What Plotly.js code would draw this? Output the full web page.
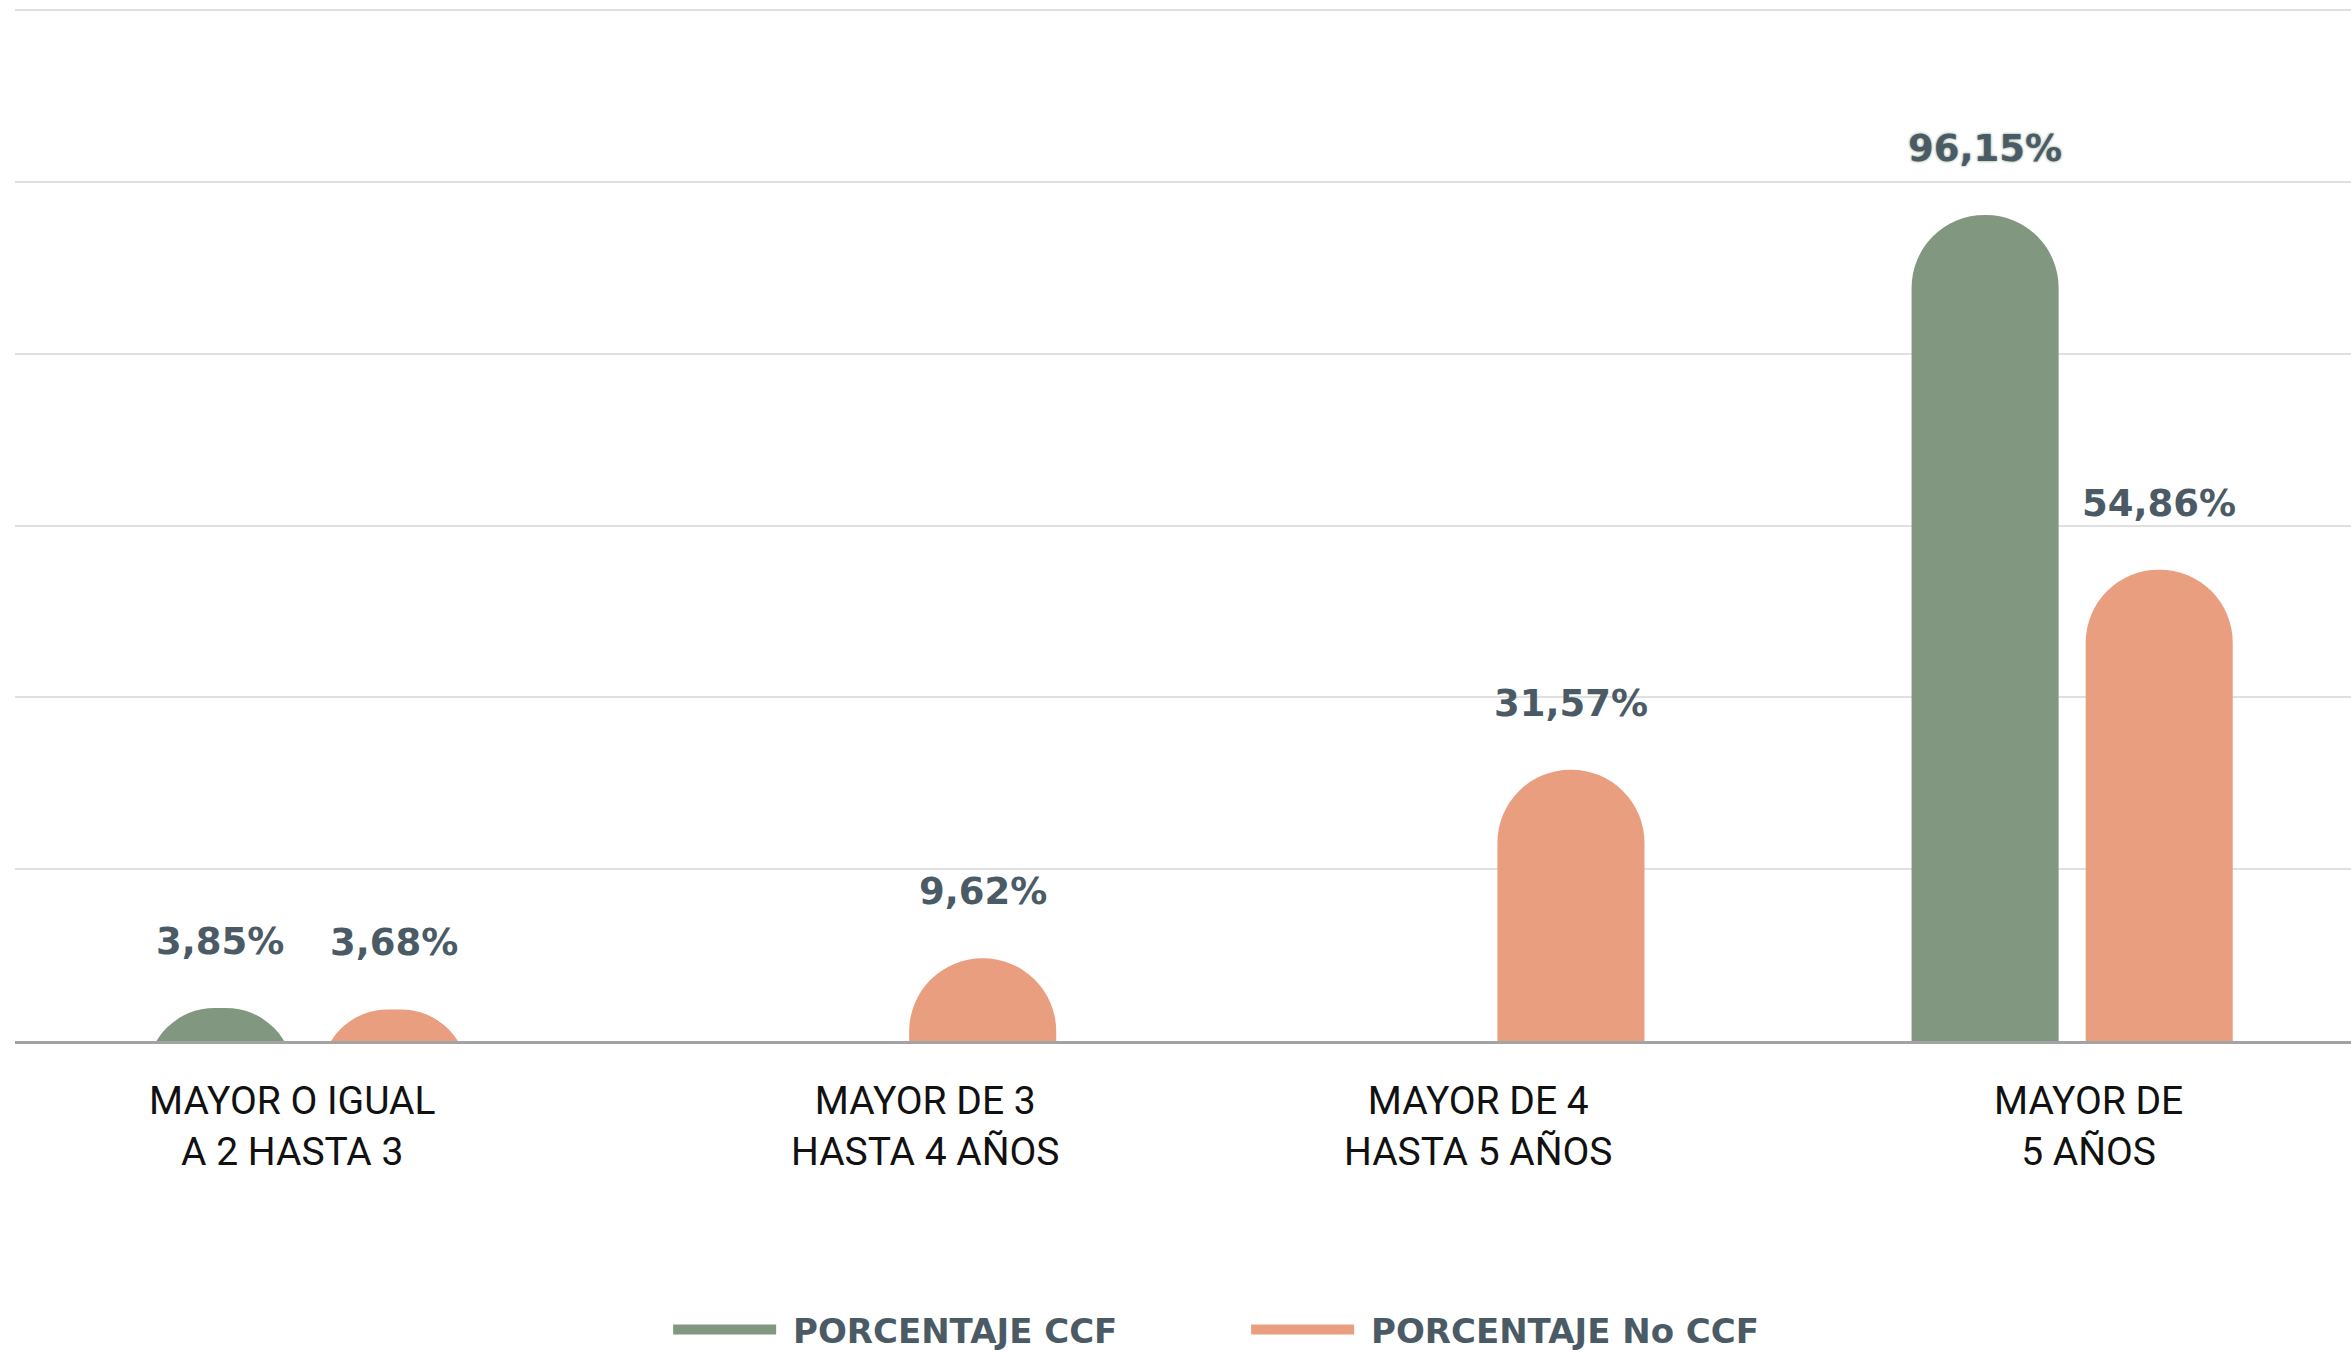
<!DOCTYPE html>
<html>
<head>
<meta charset="utf-8">
<script src="https://cdn.plot.ly/plotly-3.0.1.min.js"></script>
<style>html,body{margin:0;padding:0;background:#fff;}#chart{width:2351px;height:1353px;}</style>
</head>
<body>
<div id="chart"></div>
<script>
var categories = ["MAYOR O IGUAL<br>A 2 HASTA 3", "MAYOR DE 3<br>HASTA 4 AÑOS", "MAYOR DE 4<br>HASTA 5 AÑOS", "MAYOR DE<br>5 AÑOS"];
var ccfValues = [3.85, 0, 0, 96.15];
var noCcfValues = [3.68, 9.62, 31.57, 54.86];
var ccfLabels = ["3,85%", "", "", "96,15%"];
var noCcfLabels = ["3,68%", "9,62%", "31,57%", "54,86%"];
var seriesNames = ["PORCENTAJE CCF", "PORCENTAJE No CCF"];

// styling
var GREEN = "#82977f";
var ORANGE = "#ea9e80";
var LABEL = "#4b5b66";
var BAR_W = 0.25;
var HALF_SEP = 0.148;
var SINK = 12;               // bars start below the baseline so the rounded cap is clipped into a dome
var labelXShift = [-15, 30, -5, 16];

function sunk(vals) { return vals.map(function (v) { return v > 0 ? v + SINK : null; }); }
function bases(vals) { return vals.map(function () { return -SINK; }); }

var traces = [
  {type: "bar", x: categories, y: sunk(ccfValues), base: bases(ccfValues), width: BAR_W,
   offset: -HALF_SEP - BAR_W / 2, marker: {color: GREEN, cornerradius: "50%"},
   showlegend: false, hoverinfo: "skip"},
  {type: "bar", x: categories, y: sunk(noCcfValues), base: bases(noCcfValues), width: BAR_W,
   offset: HALF_SEP - BAR_W / 2, marker: {color: ORANGE, cornerradius: "50%"},
   showlegend: false, hoverinfo: "skip"},
  {type: "scatter", mode: "lines", x: [null], y: [null], name: "\u00a0" + seriesNames[0],
   line: {color: GREEN, width: 12}},
  {type: "scatter", mode: "lines", x: [null], y: [null], name: "\u00a0" + seriesNames[1],
   line: {color: ORANGE, width: 12}}
];

var annotations = [];
function addLabels(vals, labels, dx) {
  for (var i = 0; i < vals.length; i++) {
    if (!labels[i]) continue;
    var a = {x: i + dx, y: vals[i], xref: "x", yref: "y", text: labels[i], showarrow: false,
      xanchor: "center", yanchor: "bottom", yshift: 43,
      font: {family: "DejaVu Sans", size: 37, weight: 700, color: LABEL}};
    if (vals[i] > 90) a.font.shadow = "0 0 3px " + GREEN;
    annotations.push(a);
  }
}
addLabels(ccfValues, ccfLabels, -HALF_SEP);
addLabels(noCcfValues, noCcfLabels, HALF_SEP);

var catFont = {family: "Roboto", size: 39, color: "#111111"};
for (var i = 0; i < categories.length; i++) {
  annotations.push({x: i, y: 0, xref: "x", yref: "y", text: categories[i], showarrow: false,
    xanchor: "center", yanchor: "middle", align: "center", yshift: -85, xshift: labelXShift[i],
    font: catFont});
}

var layout = {
  width: 2351, height: 1353,
  margin: {l: 15, r: 0, t: 7, b: 312},
  paper_bgcolor: "#ffffff", plot_bgcolor: "#ffffff",
  barmode: "overlay",
  xaxis: {type: "category", range: [-0.497, 3.474], showgrid: false, zeroline: false,
    showline: true, linecolor: "#a3a3a3", linewidth: 3, ticks: "", showticklabels: false},
  yaxis: {range: [0, 120.35], tickvals: [0, 20, 40, 60, 80, 100, 120], showticklabels: false,
    showgrid: true, gridcolor: "#e0e0e0", gridwidth: 2, zeroline: false, ticks: ""},
  showlegend: true,
  legend: {orientation: "h", xref: "paper", x: 0.2796, xanchor: "left",
    yref: "container", y: 0.017, yanchor: "middle",
    itemwidth: 103, entrywidth: 460,
    font: {family: "DejaVu Sans", size: 34, weight: 700, color: LABEL},
    bgcolor: "rgba(0,0,0,0)"},
  annotations: annotations
};

Plotly.newPlot("chart", traces, layout, {displayModeBar: false, staticPlot: true});
</script>
</body>
</html>
